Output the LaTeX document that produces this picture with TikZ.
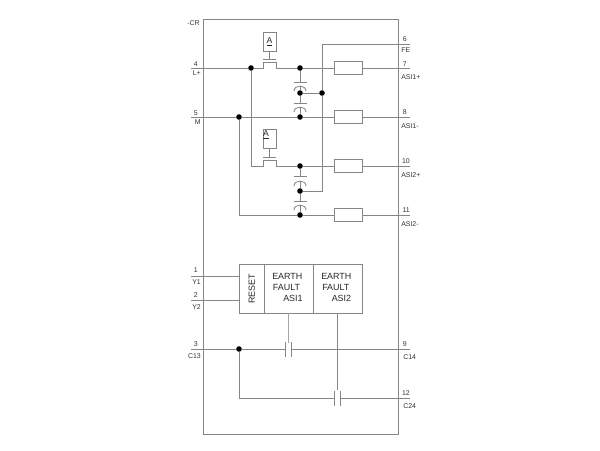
\documentclass[tikz,border=0pt]{standalone}
\usepackage{fontspec}
\setmainfont{Liberation Sans}
\tikzset{
  wire/.style={draw=black!48,line width=0.65pt},
  frame/.style={draw=black!48,line width=0.75pt},
  dot/.style={circle,fill=black,inner sep=0pt,minimum size=4.2pt},
  res/.style={draw=black!48,line width=0.65pt,fill=white,minimum width=21pt,minimum height=9.7pt,inner sep=0pt},
  small/.style={font=\fontsize{5.2}{6}\selectfont,text=black!80,inner sep=0pt},
  big/.style={font=\fontsize{6.7}{8.2}\selectfont,text=black!85,inner sep=0pt},
  coil/.style={draw=black!48,line width=0.65pt,minimum width=9.7pt,inner sep=0pt},
  cell/.style={draw=black!48,line width=0.65pt,inner sep=0pt,minimum height=36.75pt}
}
\begin{document}
\begin{tikzpicture}[x=0.75pt,y=-0.75pt]
\useasboundingbox (0,0) rectangle (600,450);
\node[frame,minimum width=146.25pt,minimum height=311.25pt,inner sep=0pt,anchor=north west] (cr) at (203,19) {};
\node[small,anchor=east] (crl) at (200,23) {-CR};
% terminals
\foreach \n/\x/\y in {tL/191/68,tM/191/117,tY1/191/276,tY2/191/300,tC13/191/349,
  tFE/410/44,tA1p/410/68,tA1m/410/117,tA2p/410/166,tA2m/410/215,tC14/410/349,tC24/410/398}
  \coordinate (\n) at (\x,\y);
% junctions
\node[dot] (j1) at (251,68) {};
\node[dot] (j2) at (239,117) {};
\node[dot] (a1) at (300,68) {};
\node[dot] (a2) at (300,93) {};
\node[dot] (a3) at (300,117) {};
\node[dot] (a4) at (322,93) {};
\node[dot] (b1) at (300,166) {};
\node[dot] (b2) at (300,191) {};
\node[dot] (b3) at (300,215) {};
\node[dot] (j3) at (239,349) {};
% resistors
\node[res] (r1) at (348,68) {};
\node[res] (r2) at (348,117) {};
\node[res] (r3) at (348,166) {};
\node[res] (r4) at (348,215) {};
% coils
\node[coil,minimum height=14pt,anchor=north] (k1) at (269.5,32) {};
\node[coil,minimum height=14pt,anchor=north] (k2) at (269.5,129) {};
\node[font=\fontsize{6.5}{7}\selectfont,text=black!85,inner sep=0pt] at (k1.center) {\underline{A}};
\node[font=\fontsize{6.5}{7}\selectfont,text=black!85,inner sep=0pt] at (266,134.5) {\underline{A}};
% wires
\coordinate (s1a) at (263,68);\coordinate (s1b) at (276,68);
\coordinate (s2a) at (263,166);\coordinate (s2b) at (276,166);
\draw[wire] (tL) -- (j1) -- (s1a) -- (263,62) -- (276,62) -- (s1b) -- (a1) -- (r1);
\draw[wire] (r1) -- (tA1p);
\draw[wire] (263,59) -- (276,59);
\draw[wire] (k1) -- (269.5,59);
\draw[wire] (j1) -- (251,166) -- (s2a) -- (263,160) -- (276,160) -- (s2b) -- (b1) -- (r3);
\draw[wire] (r3) -- (tA2p);
\draw[wire] (263,157) -- (276,157);
\draw[wire] (k2) -- (269.5,157);
\draw[wire] (tM) -- (j2) -- (a3) -- (r2) -- (tA1m);
\draw[wire] (j2) -- (239,215) -- (b3) -- (r4) -- (tA2m);
\draw[wire] (tFE) -- (322,44) -- (a4);
\draw[wire] (a4) -- (322,191) -- (b2);
\draw[wire] (a2) -- (a4);
% capacitors: upper dot / lower dot / flat plate y / curved plate top y
\foreach \t/\b/\f/\c in {a1/a2/82/86,a2/a3/103/107,b1/b2/176/181,b2/b3/201/205}{
  \draw[wire] (\t) -- (300,\f);
  \draw[wire] (294,\f) -- (307,\f);
  \draw[wire] (294,\c+5) .. controls (294,\c-1.5) and (306,\c-1.5) .. (306,\c+5);
  \draw[wire] (300,\c) -- (\b);
}
% logic block
\node[cell,minimum width=18.4pt,anchor=north west] (rs) at (239,264) {};
\node[cell,minimum width=36.75pt,anchor=north west] (e1) at (263.5,264) {};
\node[cell,minimum width=36.75pt,anchor=north west] (e2) at (312.5,264) {};
\node[big,rotate=90] at (rs.center) {RESET};
\node[big,anchor=west] at (272,276) {EARTH};
\node[big,anchor=west] at (272.7,287) {FAULT};
\node[big,anchor=west] at (283,298) {ASI1};
\node[big,anchor=west] at (321,276) {EARTH};
\node[big,anchor=west] at (322,287) {FAULT};
\node[big,anchor=west] at (331.5,298) {ASI2};
\draw[wire] (tY1) -- (rs.west |- tY1);
\draw[wire] (tY2) -- (rs.west |- tY2);
% contacts
\draw[wire] (tC13) -- (j3) -- (285,349);
\draw[wire] (285,342) -- (285,357);
\draw[wire] (291,342) -- (291,357);
\draw[wire] (291,349) -- (tC14);
\draw[wire] (j3) -- (239,398) -- (334,398);
\draw[wire] (334,391) -- (334,406);
\draw[wire] (340,391) -- (340,406);
\draw[wire] (340,398) -- (tC24);
\draw[wire,black!35] (288,313) -- (288,343);
\draw[wire] (337,313) -- (337,390);
% labels
\foreach \x/\y/\t/\a in {198/64/4/east,198/113/5/east,198/270/1/east,198/295/2/east,198/344/3/east}
  \node[small,anchor=\a] at (\x,\y) {\t};
\node[small,anchor=east] at (201,73) {L+};
\node[small,anchor=east] at (201,122) {M};
\node[small,anchor=east] at (201,282) {Y1};
\node[small,anchor=east] at (201,307) {Y2};
\node[small,anchor=east] at (201,356) {C13};
\foreach \x/\y/\t in {407/39/6,407/64/7,407/112/8,410/161/10,410/210/11,407/344/9,410/393/12}
  \node[small,anchor=east] at (\x,\y) {\t};
\node[small,anchor=west] at (401,50) {FE};
\node[small,anchor=west] at (401,77) {ASI1+};
\node[small,anchor=west] at (401,126) {ASI1-};
\node[small,anchor=west] at (401,175) {ASI2+};
\node[small,anchor=west] at (401,224) {ASI2-};
\node[small,anchor=west] at (403,357) {C14};
\node[small,anchor=west] at (403,406) {C24};
\end{tikzpicture}
\end{document}
